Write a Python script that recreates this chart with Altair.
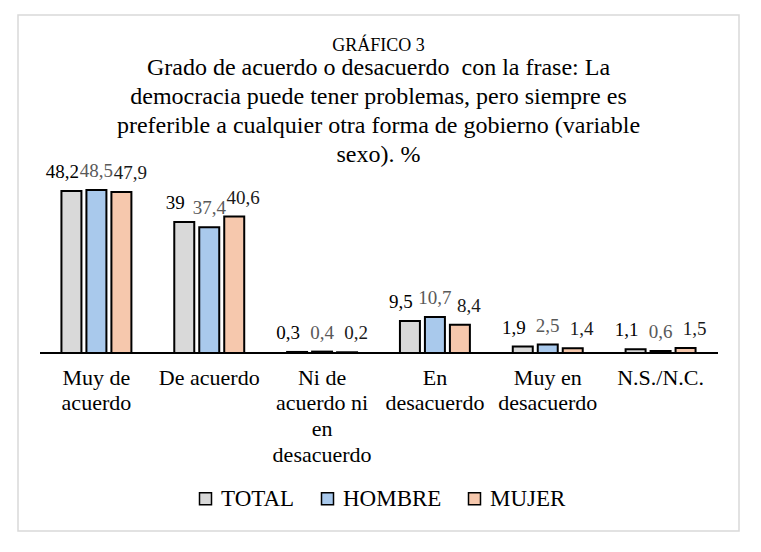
import pandas as pd
import altair as alt

categories = ["Muy de|acuerdo", "De acuerdo", "Ni de|acuerdo ni|en|desacuerdo",
              "En|desacuerdo", "Muy en|desacuerdo", "N.S./N.C."]
series = ["TOTAL", "HOMBRE", "MUJER"]
total = [48.2, 39.0, 0.3, 9.5, 1.9, 1.1]
hombre = [48.5, 37.4, 0.4, 10.7, 2.5, 0.6]
mujer = [47.9, 40.6, 0.2, 8.4, 1.4, 1.5]

bar_colors = ["#d9d9d9", "#a9c9ec", "#f6c8ad"]
label_colors = {"TOTAL": "#000000", "HOMBRE": "#595959", "MUJER": "#1a1a1a"}
label_dx = {"TOTAL": -9, "HOMBRE": 0, "MUJER": 9}

rows = []
for name, vals in zip(series, [total, hombre, mujer]):
    for cat, v in zip(categories, vals):
        rows.append({"cat": cat, "serie": name, "valor": v})
df = pd.DataFrame(rows)

FONT = "Liberation Serif, Times New Roman, serif"

# the view is the whole framed box; the baseline sits inside it
base = alt.Chart(df).encode(
    x=alt.X("cat:N", sort=categories, title=None,
            scale=alt.Scale(paddingInner=0.38, paddingOuter=0.385),
            axis=alt.Axis(labelExpr="split(datum.label, '|')", labelAngle=0,
                          labelFontSize=22, labelFont=FONT, labelColor="black",
                          labelLineHeight=25.7, labelPadding=14, labelBaseline="top",
                          ticks=False, domain=False, offset=-178, labelLimit=200)),
    xOffset=alt.XOffset("serie:N", sort=series, scale=alt.Scale(paddingInner=0.2)),
    y=alt.Y("valor:Q", axis=None, scale=alt.Scale(domain=[-53, 100.6], nice=False)),
)

bars = base.mark_bar(stroke="black", strokeWidth=2).encode(
    color=alt.Color("serie:N", sort=series, title=None,
                    scale=alt.Scale(domain=series, range=bar_colors),
                    legend=alt.Legend(orient="none", legendX=176, legendY=472,
                                      direction="horizontal",
                                      labelFont=FONT, labelFontSize=23, labelColor="black",
                                      symbolType="square", symbolSize=144,
                                      symbolStrokeColor="black", symbolStrokeWidth=1.5,
                                      labelOffset=4, columnPadding=21))
)

text_layers = []
for name in series:
    t = base.mark_text(baseline="alphabetic", dy=-13, dx=label_dx[name], font=FONT,
                       fontSize=19, color=label_colors[name]).transform_filter(
        alt.datum.serie == name
    ).transform_calculate(
        txt="replace(format(datum.valor, '.1~f'), '.', ',')"
    ).encode(text="txt:N")
    text_layers.append(t)

baseline = alt.Chart(pd.DataFrame({"cero": [0]})).mark_rule(
    color="black", strokeWidth=2
).encode(y="cero:Q", x=alt.value(22), x2=alt.value(700))

chart = alt.layer(bars, *text_layers, baseline).properties(
    width=721, height=516,
    padding={"left": 10, "top": 7, "right": 10, "bottom": 10},
    title=alt.TitleParams(
        text="GRÁFICO 3",
        subtitle=["Grado de acuerdo o desacuerdo \u00a0con la frase: La",
                  "democracia puede tener problemas, pero siempre es",
                  "preferible a cualquier otra forma de gobierno (variable",
                  "sexo). %"],
        font=FONT, fontSize=18, fontWeight="normal", color="black", lineHeight=20,
        subtitleFont=FONT, subtitleFontSize=24, subtitleColor="black",
        subtitleLineHeight=29, subtitlePadding=1, anchor="middle", offset=-152,
    ),
).configure(font=FONT).configure_title(
    font=FONT, subtitleFont=FONT
).configure_view(stroke="#d9d9d9", strokeWidth=1.5)

chart.save("out.html", embed_options={"renderer": "svg", "actions": False})
